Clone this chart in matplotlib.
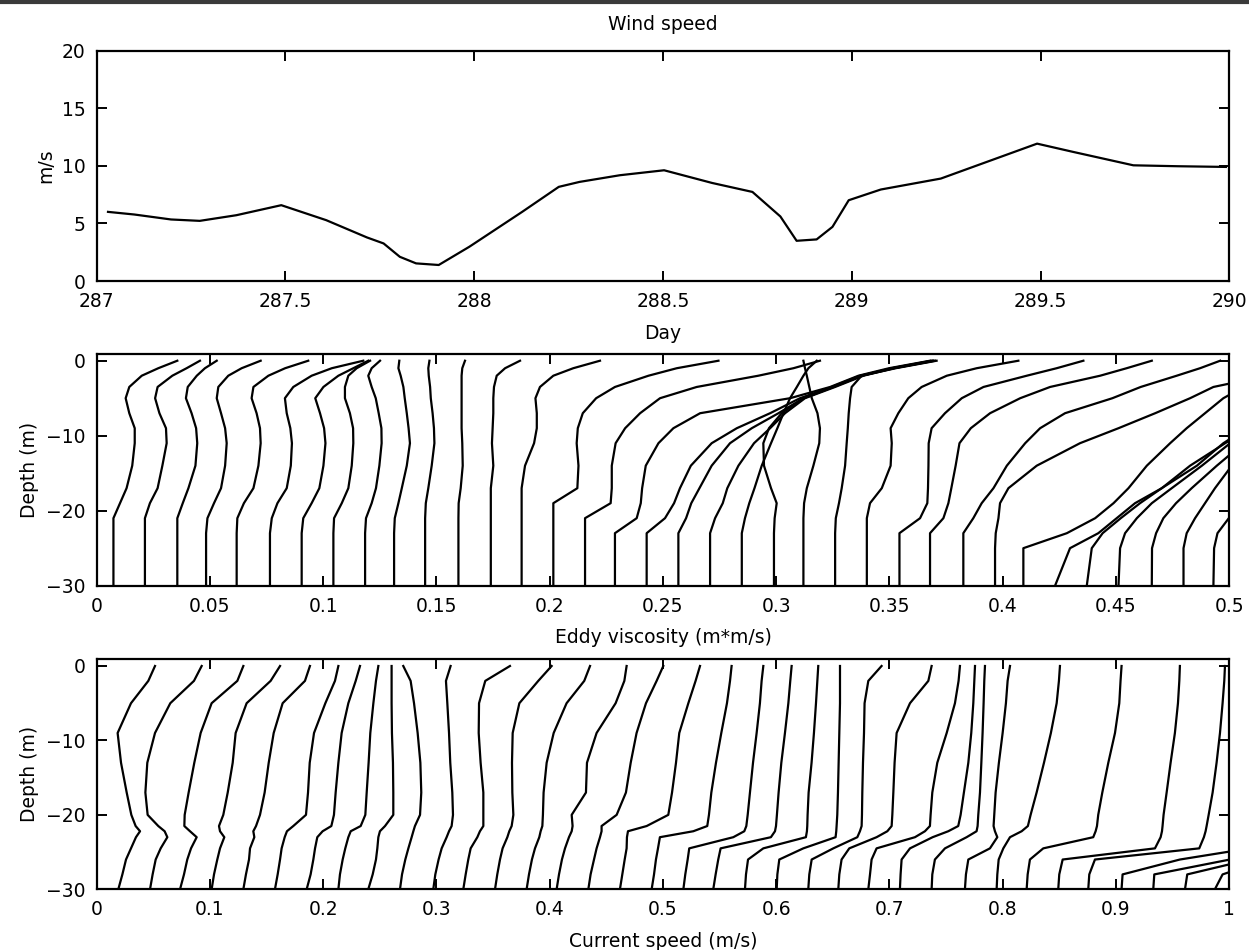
import matplotlib
matplotlib.use('Agg')
import matplotlib.pyplot as plt
from matplotlib.lines import Line2D

plt.rcParams['font.family'] = ['DejaVu Sans']

# ---------------- data ----------------
wind_day = [287.03, 287.10, 287.197, 287.273, 287.37, 287.489, 287.608, 287.716,
            287.76, 287.803, 287.846, 287.906, 287.987, 288.127, 288.224, 288.279,
            288.386, 288.503, 288.63, 288.737, 288.811, 288.854, 288.907, 288.949,
            288.992, 289.077, 289.236, 289.491, 289.587, 289.746, 289.864, 289.991]
wind_speed = [6.0, 5.77, 5.34, 5.22, 5.71, 6.58, 5.28, 3.78,
              3.26, 2.1, 1.53, 1.39, 2.97, 6.0, 8.17, 8.6,
              9.18, 9.61, 8.51, 7.73, 5.6, 3.49, 3.61, 4.7,
              7.01, 7.94, 8.89, 11.92, 11.2, 10.04, 9.96, 9.9]
wind_ticks = [287, 287.5, 288, 288.5, 289, 289.5, 290]
wind_ticklabels = ['287', '287.5', '288', '288.5', '289', '289.5', '290']

ev_depth = [-30, -25, -23, -21, -19, -17, -14, -11, -9, -7, -5, -3.5, -2, -1, 0]
ev_profiles = [
    [.0074, .0074, .0074, .0074, .0103, .0132, .0157, .0168, .0168, .0144, .0128, .0144, .0199, .0272, .0356],
    [.0213, .0213, .0213, .0213, .0235, .0269, .0290, .0309, .0306, .0277, .0258, .0269, .0334, .0397, .0456],
    [.0356, .0356, .0356, .0356, .0380, .0405, .0436, .0444, .0439, .0419, .0394, .0402, .0442, .0478, .0530],
    [.0483, .0483, .0483, .0489, .0518, .0549, .0567, .0574, .0567, .0549, .0530, .0537, .0581, .0640, .0724],
    [.0618, .0618, .0618, .0621, .0650, .0692, .0714, .0724, .0721, .0706, .0684, .0692, .0758, .0832, .0934],
    [.0765, .0765, .0765, .0773, .0798, .0839, .0857, .0862, .0855, .0839, .0831, .0868, .0949, .1038, .1177],
    [.0905, .0905, .0905, .0912, .0949, .0983, .1001, .1010, .1004, .0986, .0965, .1001, .1067, .1133, .1199],
    [.1045, .1045, .1045, .1048, .1082, .1111, .1126, .1133, .1132, .1118, .1096, .1096, .1111, .1148, .1207],
    [.1185, .1185, .1185, .1189, .1214, .1233, .1248, .1258, .1257, .1245, .1232, .1214, .1199, .1214, .1251],
    [.1313, .1313, .1313, .1316, .1332, .1347, .1369, .1383, .1377, .1369, .1360, .1354, .1342, .1332, .1336],
    [.1450, .1450, .1450, .1450, .1453, .1464, .1479, .1491, .1489, .1483, .1475, .1472, .1466, .1464, .1469],
    [.1597, .1597, .1597, .1597, .1598, .1607, .1616, .1614, .1611, .1611, .1611, .1611, .1611, .1614, .1626],
    [.1740, .1740, .1740, .1740, .1740, .1740, .1751, .1745, .1748, .1751, .1751, .1754, .1766, .1803, .1869],
    [.1876, .1876, .1876, .1876, .1876, .1876, .1891, .1931, .1943, .1943, .1937, .1957, .2016, .2104, .2222],
    [.2016, .2016, .2016, .2016, .2016, .2122, .2127, .2119, .2124, .2146, .2205, .2288, .2436, .2561, .2745],
    [.2156, .2156, .2156, .2156, .2269, .2274, .2274, .2291, .2333, .2399, .2487, .2649, .2921, .3076, .3193],
    [.2288, .2288, .2288, .2384, .2402, .2408, .2424, .2480, .2546, .2664, .3061, .3238, .3363, .3498, .3679],
    [.2428, .2428, .2428, .2509, .2549, .2575, .2623, .2715, .2826, .2973, .3105, .3245, .3370, .3517, .3694],
    [.2568, .2568, .2568, .2602, .2625, .2661, .2715, .2796, .2892, .3010, .3120, .3252, .3377, .3528, .3708],
    [.2708, .2708, .2708, .2730, .2764, .2784, .2833, .2902, .2973, .3039, .3127, .3260, .3385, .3520, .3701],
    [.2848, .2848, .2848, .2862, .2881, .2904, .2936, .2977, .3005, .3032, .3061, .3091, .3120, .3142, .3179],
    [.2990, .2990, .2990, .2993, .3002, .2977, .2946, .2943, .2968, .3024, .3120, .3252, .3377, .3514, .3691],
    [.3120, .3120, .3120, .3120, .3123, .3135, .3164, .3190, .3193, .3182, .3157, .3146, .3135, .3127, .3120],
    [.3260, .3260, .3260, .3263, .3277, .3289, .3304, .3311, .3316, .3320, .3326, .3333, .3377, .3510, .3686],
    [.3400, .3400, .3400, .3400, .3414, .3466, .3505, .3510, .3505, .3539, .3583, .3642, .3753, .3885, .4069],
    [.3544, .3544, .3544, .3635, .3667, .3670, .3672, .3673, .3686, .3745, .3819, .3915, .4106, .4238, .4356],
    [.3679, .3679, .3679, .3738, .3760, .3773, .3792, .3809, .3859, .3944, .4077, .4209, .4430, .4547, .4658],
    [.3826, .3826, .3826, .3870, .3907, .3959, .4018, .4099, .4165, .4275, .4484, .4609, .4768, .4871, .4960],
    [.3966, .3966, .3969, .3981, .3988, .4025, .4150, .4341, .4511, .4673, .4827, .4930, .5166, .5313, .5460],
    [.4091, .4091, .4283, .4408, .4489, .4555, .4636, .4739, .4812, .4893, .4974, .5063, .5180, .5283, .5386],
    [.4231, .4297, .4422, .4503, .4584, .4702, .4857, .4974, .5077, .5180, .5283, .5357, .5430, .5489, .5533],
    [.4371, .4393, .4441, .4521, .4606, .4702, .4827, .4982, .5092, .5195, .5298, .5372, .5445, .5504, .5548],
    [.4511, .4518, .4540, .4592, .4658, .4746, .4879, .5004, .5107, .5210, .5313, .5386, .5460, .5519, .5563],
    [.4658, .4659, .4677, .4709, .4765, .4834, .4945, .5063, .5151, .5239, .5327, .5401, .5475, .5533, .5578],
    [.4798, .4798, .4812, .4849, .4893, .4937, .5011, .5092, .5166, .5239, .5313, .5386, .5460, .5533, .5607],
    [.4930, .4933, .4948, .4998, .5048, .5092, .5151, .5224, .5298, .5372, .5445, .5519, .5592, .5666, .5739],
]
ev_ticks = [0, 0.05, 0.1, 0.15, 0.2, 0.25, 0.3, 0.35, 0.4, 0.45, 0.5]
ev_ticklabels = ['0', '0.05', '0.1', '0.15', '0.2', '0.25', '0.3', '0.35', '0.4', '0.45', '0.5']

cs_depth = [-30, -28, -26, -24.5, -23, -22.2, -21.5, -20, -17, -13, -9, -5, -2, 0]
cs_profiles = [
    [.0191, .0227, .0259, .0303, .0347, .0383, .0344, .0306, .0265, .0215, .0185, .0303, .0456, .0515],
    [.0471, .0494, .0521, .0565, .0624, .0600, .0544, .0450, .0430, .0447, .0515, .0650, .0859, .0927],
    [.0736, .0771, .0800, .0833, .0883, .0824, .0774, .0777, .0812, .0862, .0918, .1015, .1242, .1295],
    [.1015, .1036, .1065, .1089, .1127, .1089, .1080, .1118, .1157, .1201, .1227, .1324, .1536, .1619],
    [.1295, .1318, .1345, .1354, .1392, .1383, .1407, .1442, .1483, .1519, .1563, .1642, .1839, .1883],
    [.1574, .1598, .1619, .1633, .1660, .1680, .1736, .1848, .1866, .1881, .1919, .2019, .2104, .2134],
    [.1854, .1889, .1913, .1928, .1948, .1995, .2072, .2095, .2110, .2134, .2163, .2222, .2287, .2325],
    [.2134, .2148, .2172, .2195, .2222, .2243, .2331, .2372, .2384, .2401, .2416, .2443, .2466, .2487],
    [.2398, .2437, .2466, .2478, .2487, .2501, .2546, .2619, .2619, .2616, .2607, .2604, .2604, .2604],
    [.2678, .2696, .2725, .2752, .2781, .2796, .2810, .2855, .2866, .2858, .2834, .2802, .2772, .2707],
    [.2972, .2990, .3019, .3046, .3090, .3111, .3134, .3146, .3140, .3122, .3111, .3096, .3084, .3125],
    [.3237, .3258, .3281, .3302, .3361, .3384, .3414, .3414, .3414, .3390, .3373, .3376, .3431, .3649],
    [.3517, .3537, .3561, .3584, .3626, .3643, .3664, .3679, .3670, .3667, .3673, .3732, .3899, .4017],
    [.3796, .3817, .3843, .3870, .3908, .3920, .3935, .3940, .3946, .3973, .4035, .4149, .4305, .4356],
    [.4061, .4082, .4108, .4135, .4170, .4194, .4202, .4194, .4320, .4329, .4414, .4582, .4659, .4679],
    [.4341, .4361, .4391, .4414, .4444, .4458, .4458, .4591, .4673, .4715, .4767, .4850, .4944, .5003],
    [.4620, .4641, .4662, .4679, .4682, .4691, .4856, .5047, .5080, .5115, .5144, .5224, .5288, .5327],
    [.4900, .4921, .4938, .4956, .4973, .5268, .5391, .5406, .5427, .5468, .5515, .5565, .5592, .5606],
    [.5180, .5197, .5218, .5232, .5621, .5718, .5736, .5748, .5768, .5795, .5827, .5856, .5871, .5886],
    [.5444, .5465, .5488, .5509, .5953, .5989, .5998, .6006, .6021, .6045, .6077, .6107, .6124, .6136],
    [.5724, .5733, .5751, .5886, .6262, .6271, .6274, .6277, .6286, .6312, .6333, .6351, .6363, .6371],
    [.6004, .6010, .6027, .6239, .6524, .6530, .6533, .6539, .6545, .6551, .6557, .6563, .6563, .6563],
    [.6283, .6292, .6313, .6504, .6716, .6739, .6754, .6757, .6760, .6766, .6775, .6780, .6813, .6930],
    [.6548, .6557, .6577, .6645, .6886, .6981, .7019, .7025, .7034, .7045, .7063, .7181, .7343, .7372],
    [.6813, .6828, .6842, .6886, .7225, .7313, .7357, .7363, .7378, .7422, .7505, .7578, .7610, .7622],
    [.7092, .7098, .7107, .7181, .7381, .7519, .7607, .7628, .7657, .7696, .7722, .7740, .7749, .7755],
    [.7372, .7378, .7401, .7490, .7681, .7769, .7778, .7784, .7799, .7811, .7822, .7831, .7837, .7843],
    [.7666, .7675, .7696, .7887, .7952, .7931, .7919, .7925, .7937, .7966, .7999, .8028, .8043, .8064],
    [.7946, .7952, .7964, .8005, .8064, .8167, .8222, .8246, .8299, .8364, .8425, .8476, .8496, .8505],
    [.8211, .8220, .8240, .8358, .8799, .8820, .8832, .8843, .8879, .8932, .8991, .9029, .9040, .9049],
    [.8490, .8499, .8529, .9344, .9394, .9406, .9411, .9420, .9447, .9482, .9520, .9547, .9559, .9564],
    [.8755, .8764, .8814, .9735, .9776, .9791, .9800, .9818, .9853, .9888, .9918, .9941, .9956, .9962],
    [.9049, .9058, .9564, 1.018, 1.036, 1.048, 1.059, 1.071, 1.083, 1.095, 1.107, 1.118, 1.130, 1.142],
    [.9329, .9338, 1.0006, 1.025, 1.040, 1.050, 1.060, 1.070, 1.080, 1.090, 1.100, 1.110, 1.120, 1.130],
    [.9609, .9629, 1.018, 1.040, 1.050, 1.060, 1.070, 1.080, 1.090, 1.100, 1.110, 1.120, 1.130, 1.140],
    [.9873, .9941, 1.033, 1.050, 1.060, 1.070, 1.080, 1.090, 1.100, 1.110, 1.120, 1.130, 1.140, 1.150],
]
cs_ticks = [0, 0.1, 0.2, 0.3, 0.4, 0.5, 0.6, 0.7, 0.8, 0.9, 1.0]
cs_ticklabels = ['0', '0.1', '0.2', '0.3', '0.4', '0.5', '0.6', '0.7', '0.8', '0.9', '1']
depth_ticks = [-30, -20, -10, 0]

# ---------------- figure ----------------
FS = 13.5
LW = 1.6
fig = plt.figure(figsize=(12.49, 9.5), dpi=100)
fig.add_artist(Line2D([0, 1], [0.998, 0.998], color='#3a3a3a', lw=3))

def style(ax):
    for s in ax.spines.values():
        s.set_linewidth(1.6)
    ax.tick_params(direction='in', length=7, width=1.4, top=True, right=True,
                   labelsize=FS, pad=8)

ax1 = fig.add_axes([0.0774, 0.7042, 0.9068, 0.2426])
ax1.plot(wind_day, wind_speed, color='black', lw=LW)
ax1.set_xlim(287, 290)
ax1.set_ylim(0, 20)
ax1.set_xticks(wind_ticks)
ax1.set_xticklabels(wind_ticklabels)
ax1.set_yticks([0, 5, 10, 15, 20])
ax1.set_title('Wind speed', fontsize=FS, pad=15)
ax1.set_xlabel('Day', fontsize=FS, labelpad=9)
ax1.set_ylabel('m/s', fontsize=FS, labelpad=5)
style(ax1)

ax2 = fig.add_axes([0.0774, 0.3835, 0.9068, 0.2439])
for prof in ev_profiles:
    ax2.plot(prof, ev_depth, color='black', lw=LW)
ax2.set_xlim(0, 0.5)
ax2.set_ylim(-30, 0.9)
ax2.set_xticks(ev_ticks)
ax2.set_xticklabels(ev_ticklabels)
ax2.set_yticks(depth_ticks)
ax2.set_xlabel('Eddy viscosity (m*m/s)', fontsize=FS, labelpad=9)
ax2.set_ylabel('Depth (m)', fontsize=FS, labelpad=5)
style(ax2)

ax3 = fig.add_axes([0.0774, 0.0639, 0.9068, 0.2421])
for prof in cs_profiles:
    ax3.plot(prof, cs_depth, color='black', lw=LW)
ax3.set_xlim(0, 1)
ax3.set_ylim(-30, 0.9)
ax3.set_xticks(cs_ticks)
ax3.set_xticklabels(cs_ticklabels)
ax3.set_yticks(depth_ticks)
ax3.set_xlabel('Current speed (m/s)', fontsize=FS, labelpad=9)
ax3.set_ylabel('Depth (m)', fontsize=FS, labelpad=5)
style(ax3)

fig.savefig('out.png', dpi=100)
